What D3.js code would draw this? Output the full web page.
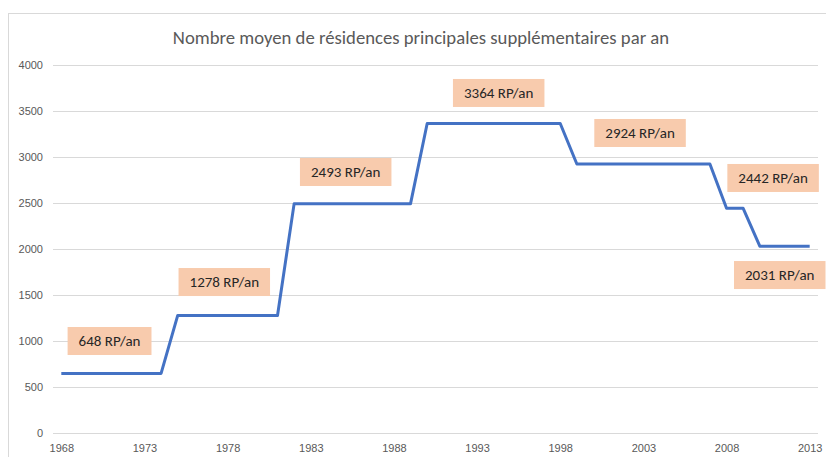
<!DOCTYPE html>
<html>
<head>
<meta charset="utf-8">
<script src="https://cdn.jsdelivr.net/npm/d3@7"></script>
<style>
  body { margin: 0; background: #fff; font-family: Carlito, Lato, "Open Sans", sans-serif; }
  .axis text { fill: #595959; font-size: 11px; }
  .axis path, .axis line { stroke: none; }
</style>
</head>
<body>
<svg id="chart"></svg>
<script>
// Average number of additional main residences per year
var title = "Nombre moyen de résidences principales supplémentaires par an";
var years = d3.range(1968, 2014);
var values = [
  648, 648, 648, 648, 648, 648, 648,          // 1968-1974
  1278, 1278, 1278, 1278, 1278, 1278, 1278,   // 1975-1981
  2493, 2493, 2493, 2493, 2493, 2493, 2493, 2493, // 1982-1989
  3364, 3364, 3364, 3364, 3364, 3364, 3364, 3364, 3364, // 1990-1998
  2924, 2924, 2924, 2924, 2924, 2924, 2924, 2924, 2924, // 1999-2007
  2442, 2442,                                  // 2008-2009
  2031, 2031, 2031, 2031                       // 2010-2013
];
var yTicks = [0, 500, 1000, 1500, 2000, 2500, 3000, 3500, 4000];
var xTicks = [1968, 1973, 1978, 1983, 1988, 1993, 1998, 2003, 2008, 2013];

// annotation boxes, anchored in data coordinates
var labelText = ["648 RP/an", "1278 RP/an", "2493 RP/an", "3364 RP/an", "2924 RP/an", "2442 RP/an", "2031 RP/an"];
var labelYear = [1970.9, 1977.8, 1985.1, 1994.3, 2002.8, 2010.8, 2011.2];
var labelValue = [1000, 1641, 2837, 3696, 3261, 2772, 1717];

function drawChart(){
  var width = 826, height = 457;
  var svg = d3.select("#chart").attr("width", width).attr("height", height);

  // outer chart frame
  svg.append("rect")
    .attr("x", 8.5).attr("y", 13.5)
    .attr("width", 830).attr("height", 460)
    .attr("fill", "#fff")
    .attr("stroke", "#d9d9d9");

  var mLeft = 53, mRight = 818, mTop = 65, mBottom = 433;

  var xScale = d3.scaleLinear()
    .domain([years[0] - 0.5, years[years.length - 1] + 0.5])
    .range([mLeft, mRight]);

  var yScale = d3.scaleLinear()
    .domain([0, 4000])
    .range([mBottom, mTop]);

  // gridlines
  svg.append("g")
    .selectAll("line")
    .data(yTicks)
    .enter()
    .append("line")
    .attr("x1", mLeft).attr("x2", mRight)
    .attr("y1", function(d){ return Math.round(yScale(d)) + 0.5; })
    .attr("y2", function(d){ return Math.round(yScale(d)) + 0.5; })
    .attr("stroke", "#d9d9d9")
    .attr("stroke-width", 1);

  // axes
  var yAxis = d3.axisLeft(yScale).tickValues(yTicks).tickFormat(d3.format("d")).tickSize(0).tickPadding(10);
  svg.append("g")
    .attr("class", "axis")
    .attr("transform", "translate(" + mLeft + ",0)")
    .call(yAxis);

  var xAxis = d3.axisBottom(xScale).tickValues(xTicks).tickFormat(d3.format("d")).tickSize(0).tickPadding(11);
  svg.append("g")
    .attr("class", "axis")
    .attr("transform", "translate(0," + mBottom + ")")
    .call(xAxis);

  // title
  svg.append("text")
    .attr("x", 421)
    .attr("y", 44)
    .attr("text-anchor", "middle")
    .attr("fill", "#595959")
    .style("font-size", "18.7px")
    .text(title);

  // line
  var line = d3.line()
    .x(function(d, i){ return xScale(years[i]); })
    .y(function(d){ return yScale(d); });

  svg.append("path")
    .datum(values)
    .attr("d", line)
    .attr("fill", "none")
    .attr("stroke", "#4472c4")
    .attr("stroke-width", 3)
    .attr("stroke-linejoin", "round");

  // labels
  var gLabels = svg.append("g");
  labelText.forEach(function(t, i){
    var cx = xScale(labelYear[i]), cy = yScale(labelValue[i]);
    var g = gLabels.append("g");
    var rect = g.append("rect").attr("fill", "#f8cbad");
    var txt = g.append("text")
      .attr("x", cx).attr("y", cy + 5)
      .attr("text-anchor", "middle")
      .attr("fill", "#262626")
      .style("font-size", "15px")
      .text(t);
    var bb = txt.node().getBBox();
    var w = bb.width + 22, h = 28;
    rect.attr("x", cx - w / 2).attr("y", cy - h / 2)
      .attr("width", w).attr("height", h);
  });
}

drawChart();
</script>
</body>
</html>
